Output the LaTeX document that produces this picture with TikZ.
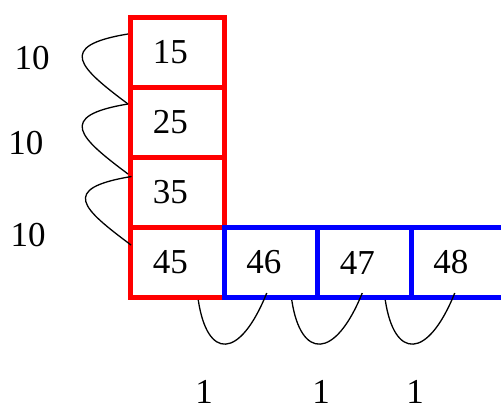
\documentclass[tikz,border=0pt]{standalone}
\usepackage{fontspec}
\setmainfont{Liberation Serif}
\usetikzlibrary{calc}
\begin{document}
\begin{tikzpicture}[x=1pt,y=-1pt,
  cell/.style={draw, line width=5pt, minimum width=93.5pt, minimum height=70pt, inner sep=0pt, outer sep=0pt},
  rcell/.style={cell, draw=red},
  bcell/.style={cell, draw=blue},
  num/.style={font=\fontsize{35}{40}\selectfont, inner sep=0pt, xshift=-7pt},
  lbl/.style={font=\fontsize{35}{40}\selectfont, inner sep=0pt},
  hop/.style={draw=black, line width=1.3pt}]
\useasboundingbox (0,0) rectangle (501,413);
\clip (0,0) rectangle (501,413);
\node[rcell, label={[num]center:15}] (b15) at (177.25,52.5) {};
\node[rcell, label={[num]center:25}] (b25) at (177.25,122.5) {};
\node[rcell, label={[num]center:35}] (b35) at (177.25,192.5) {};
\node[rcell, label={[num]center:45}] (b45) at (177.25,262.5) {};
\node[bcell, label={[num]center:46}] (b46) at (270.75,262.5) {};
\node[bcell, label={[num]center:47}] (b47) at (364.25,262.5) {};
\node[bcell, label={[num]center:48}] (b48) at (457.75,262.5) {};
% left hops
\draw[hop] ($(b15.west)+(-2.5,-18.5)$) .. controls +(-73,12) and +(-48,-36) .. ($(b25.west)+(-2.5,-18.5)$);
\draw[hop] ($(b25.west)+(-2.5,-18.5)$) .. controls +(-73,12) and +(-48,-36) .. ($(b35.west)+(-2.5,-18.5)$);
\draw[hop] ($(b35.west)+(1,-16)$) .. controls +(-73,12) and +(-48,-36) .. ($(b45.west)+(0.5,-17.5)$);
% bottom hops
\draw[hop] ($(b45.south)+(21,2.5)$) .. controls +(9,60) and +(-27,67) .. ($(b46.south)+(-4,-4.5)$);
\draw[hop] ($(b46.south)+(21,2.5)$) .. controls +(9,60) and +(-27,67) .. ($(b47.south)+(-2,-4.5)$);
\draw[hop] ($(b47.south)+(21,2.5)$) .. controls +(9,60) and +(-27,67) .. ($(b48.south)+(-3,-4.5)$);
% labels
\node[lbl] (t1) at (32,58) {10};
\node[lbl] (t2) at (26,143) {10};
\node[lbl] (t3) at (28,235) {10};
\node[lbl] (u1) at (204,392) {1};
\node[lbl] (u2) at (321,392) {1};
\node[lbl] (u3) at (415,392) {1};
\end{tikzpicture}
\end{document}
